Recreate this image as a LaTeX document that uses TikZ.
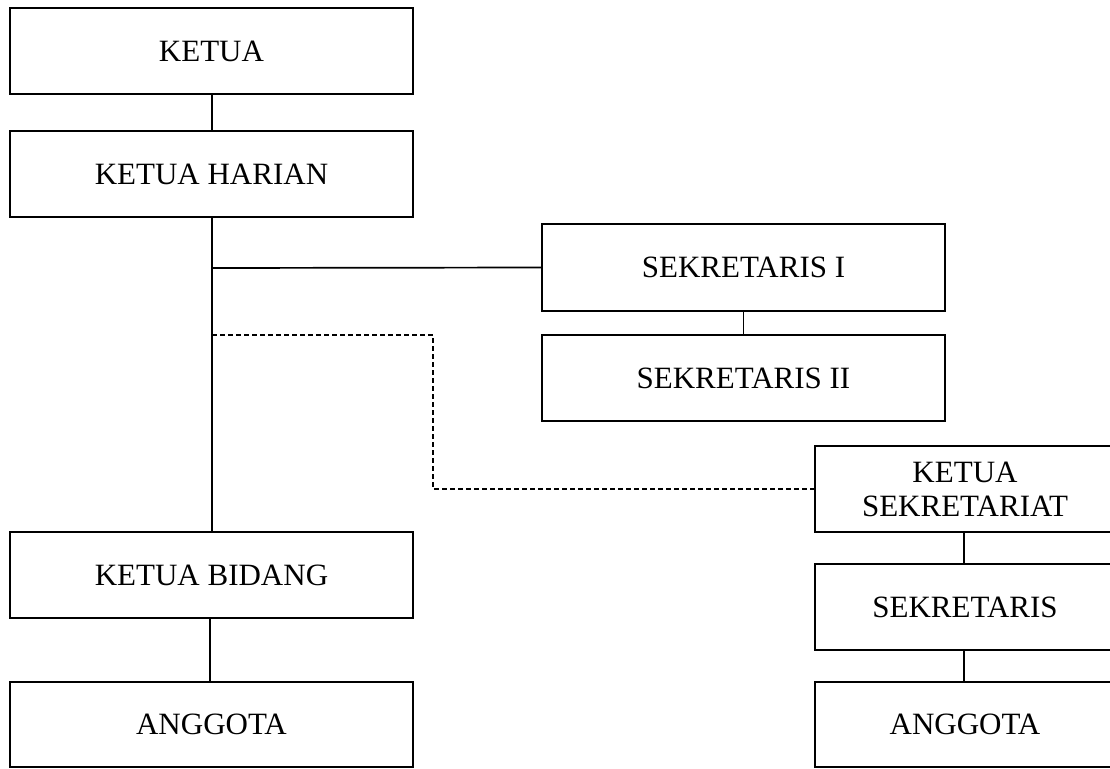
\documentclass[tikz,border=0pt]{standalone}
\usepackage{fontspec}
\setmainfont{Liberation Serif}
\begin{document}
\begin{tikzpicture}[x=1pt,y=-1pt,
  box/.style={draw,line width=1.8pt,fill=white,inner sep=0pt,align=center,font=\fontsize{31}{34}\selectfont},
  conn/.style={line width=1.7pt},
  dconn/.style={line width=1.7pt,dash pattern=on 5pt off 3pt}]
\useasboundingbox (0,0) rectangle (1110,768);
% left column
\node[box,minimum width=403pt,minimum height=86pt] (ketua) at (211.5,51) {KETUA};
\node[box,minimum width=403pt,minimum height=86pt] (harian) at (211.5,174) {KETUA HARIAN};
\node[box,minimum width=403pt,minimum height=86pt] (bidang) at (211.5,575) {KETUA BIDANG};
\node[box,minimum width=403pt,minimum height=85pt] (anggL) at (211.5,724.5) {ANGGOTA};
% middle column
\node[box,minimum width=403pt,minimum height=87pt] (sek1) at (743.5,267.5) {SEKRETARIS I};
\node[box,minimum width=403pt,minimum height=86pt] (sek2) at (743.5,378) {SEKRETARIS II};
% right column
\node[box,minimum width=300pt,minimum height=86pt] (ksek) at (965,489) {KETUA\\SEKRETARIAT};
\node[box,minimum width=300pt,minimum height=86pt] (sekr) at (965,607) {SEKRETARIS};
\node[box,minimum width=300pt,minimum height=85pt] (anggR) at (965,724.5) {ANGGOTA};
% connectors
\coordinate (j1) at (212,268);
\coordinate (j2) at (212,335);
\coordinate (d1) at (433,335);
\coordinate (d2) at (433,489);
\draw[conn] (ketua.south -| 212,0) -- (harian.north -| 212,0);
\draw[conn] (harian.south -| 212,0) -- (bidang.north -| 212,0);
\draw[conn] (j1) -- (sek1.west);
\draw[dconn] (j2) -- (d1) -- (d2) -- (ksek.west);
\draw[conn] (sek1.south) -- (sek2.north);
\draw[conn] (bidang.south -| 210,0) -- (anggL.north -| 210,0);
\draw[conn] (ksek.south -| 964,0) -- (sekr.north -| 964,0);
\draw[conn] (sekr.south -| 964,0) -- (anggR.north -| 964,0);
\end{tikzpicture}
\end{document}
